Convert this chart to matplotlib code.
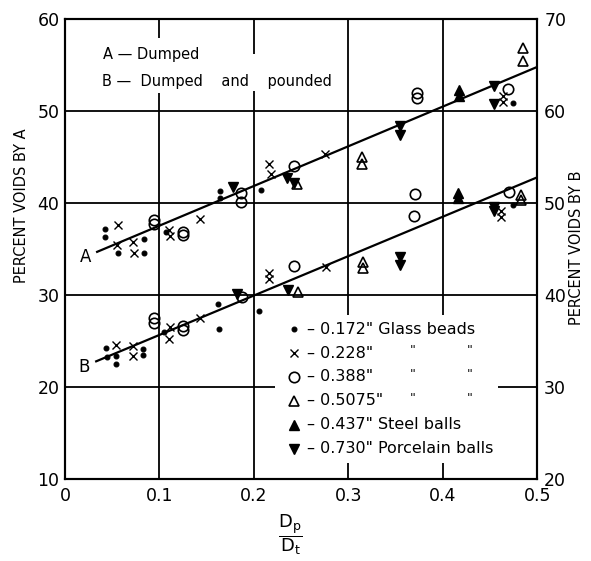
import matplotlib
matplotlib.use('Agg')
import matplotlib.pyplot as plt

plt.rcParams['font.family'] = ['DejaVu Sans']
plt.rcParams['mathtext.default'] = 'regular'

# ---- data: A = dumped (left scale), B = dumped and pounded (right scale)
# 0.172" glass beads
A_dot_x = [0.042, 0.042, 0.056, 0.084, 0.0835, 0.107, 0.164, 0.164, 0.207, 0.474]
A_dot_y = [37.2, 36.3, 34.6, 36.1, 34.6, 36.9, 40.6, 41.3, 41.4, 50.9]
B_dot_x = [0.043, 0.044, 0.054, 0.054, 0.083, 0.083, 0.105, 0.162, 0.163, 0.205, 0.474]
B_dot_y = [34.2, 33.3, 33.4, 32.5, 34.1, 33.5, 36.0, 39.0, 36.3, 38.3, 49.75]
# 0.228" glass beads
A_x_x = [0.056, 0.055, 0.072, 0.073, 0.110, 0.1115, 0.143, 0.216, 0.218, 0.275, 0.464, 0.464]
A_x_y = [37.6, 35.4, 35.8, 34.6, 37.1, 36.4, 38.3, 44.3, 43.2, 45.3, 51.6, 51.0]
B_x_x = [0.0545, 0.072, 0.0725, 0.111, 0.110, 0.143, 0.216, 0.216, 0.276, 0.462, 0.462]
B_x_y = [34.6, 34.5, 33.4, 36.5, 35.2, 37.5, 42.4, 41.8, 43.0, 49.1, 48.45]
# 0.388" glass beads
A_o_x = [0.094, 0.094, 0.125, 0.125, 0.186, 0.186, 0.242, 0.373, 0.373, 0.469]
A_o_y = [38.2, 37.7, 36.9, 36.5, 41.1, 40.1, 44.0, 52.0, 51.4, 52.4]
B_o_x = [0.094, 0.094, 0.125, 0.125, 0.187, 0.2425, 0.370, 0.371, 0.470]
B_o_y = [37.5, 37.0, 36.6, 36.2, 39.8, 43.2, 48.6, 51.0, 51.2]
# 0.5075" glass beads
A_tri_x = [0.246, 0.314, 0.314, 0.4845, 0.4845]
A_tri_y = [42.1, 45.0, 44.2, 56.9, 55.4]
B_tri_x = [0.247, 0.315, 0.315, 0.483, 0.483]
B_tri_y = [40.3, 43.6, 42.9, 50.9, 50.3]
# 0.437" steel balls
A_up_x = [0.417, 0.417]
A_up_y = [52.3, 51.6]
B_up_x = [0.416, 0.416]
B_up_y = [51.1, 50.6]
# 0.730" porcelain balls
A_dn_x = [0.178, 0.2355, 0.242, 0.355, 0.355, 0.454, 0.454]
A_dn_y = [41.7, 42.7, 42.2, 48.35, 47.4, 52.7, 50.8]
B_dn_x = [0.182, 0.236, 0.3545, 0.3545, 0.454, 0.454]
B_dn_y = [40.1, 40.6, 44.1, 43.3, 49.6, 49.1]

# fitted lines (end points)
A_line_x = [0.034, 0.5]
A_line_y = [34.7, 54.8]
B_line_x = [0.033, 0.5]
B_line_y = [32.8, 52.8]

x_ticks = [0, 0.1, 0.2, 0.3, 0.4, 0.5]
x_labels = ['0', '0.1', '0.2', '0.3', '0.4', '0.5']
left_ticks = [10, 20, 30, 40, 50, 60]
right_ticks = [20, 30, 40, 50, 60, 70]

legend_labels = ['0.172"', '0.228"', '0.388"', '0.5075"', '0.437"', '0.730"']
legend_names = ['Glass beads', None, None, None, 'Steel balls', 'Porcelain balls']

# marker styles: dot, x, open circle, open triangle, steel, porcelain
styles = [
    dict(marker='o', ms=3.5, mfc='black', mec='black', mew=0.8),
    dict(marker='x', ms=5.5, mfc='black', mec='black', mew=1.0),
    dict(marker='o', ms=7.5, mfc='none', mec='black', mew=1.2),
    dict(marker='^', ms=7.5, mfc='none', mec='black', mew=1.2),
    dict(marker='^', ms=7.5, mfc='black', mec='black', mew=1.0),
    dict(marker='v', ms=7.5, mfc='black', mec='black', mew=1.0),
]

fig = plt.figure(figsize=(5.91, 5.61), dpi=100)
ax = fig.add_axes([0.110, 0.146, 0.799, 0.820])
ax.set_xlim(0, 0.5)
ax.set_ylim(10, 60)
ax2 = ax.twinx()
ax2.set_ylim(20, 70)

lw = 1.3
# grid lines with the gaps of the original sheet
ax.vlines(0.1, 57.9, 60, color='black', lw=lw)
ax.vlines(0.1, 10, 52.0, color='black', lw=lw)
ax.vlines(0.2, 56.2, 60, color='black', lw=lw)
ax.vlines(0.2, 10, 52.2, color='black', lw=lw)
for xv in (0.3, 0.4):
    ax.vlines(xv, 27.8, 60, color='black', lw=lw)
    ax.vlines(xv, 10, 11.8, color='black', lw=lw)
for yv in (30, 40, 50):
    ax.hlines(yv, 0, 0.5, color='black', lw=lw)
ax.hlines(20, 0, 0.222, color='black', lw=lw)
ax.hlines(20, 0.459, 0.5, color='black', lw=lw)

# fitted lines
ax.plot(A_line_x, A_line_y, color='black', lw=1.6)
ax2.plot(B_line_x, B_line_y, color='black', lw=1.6)

A_sets = [(A_dot_x, A_dot_y), (A_x_x, A_x_y), (A_o_x, A_o_y),
          (A_tri_x, A_tri_y), (A_up_x, A_up_y), (A_dn_x, A_dn_y)]
B_sets = [(B_dot_x, B_dot_y), (B_x_x, B_x_y), (B_o_x, B_o_y),
          (B_tri_x, B_tri_y), (B_up_x, B_up_y), (B_dn_x, B_dn_y)]
for (xs, ys), st in zip(A_sets, styles):
    ax.plot(xs, ys, ls='none', **st)
for (xs, ys), st in zip(B_sets, styles):
    ax2.plot(xs, ys, ls='none', **st)

# line labels and notes
ax.text(0.022, 34.1, 'A', fontsize=12, ha='center', va='center')
ax2.text(0.020, 32.2, 'B', fontsize=12, ha='center', va='center')
ax.text(0.040, 56.2, 'A \u2014 Dumped', fontsize=10.5, va='center')
ax.text(0.039, 53.2, 'B \u2014  Dumped    and    pounded', fontsize=10.5, va='center')

# legend block
for i, st in enumerate(styles):
    yy = 26.3 - 2.6 * i
    ax.plot([0.242], [yy], ls='none', **st)
    if legend_names[i] is not None:
        ax.text(0.256, yy, '\u2013 ' + legend_labels[i] + ' ' + legend_names[i],
                fontsize=11.5, va='center')
    else:
        ax.text(0.256, yy, '\u2013 ' + legend_labels[i], fontsize=11.5, va='center')
        ax.text(0.368, yy + 0.3, '"', fontsize=9, va='center', ha='center')
        ax.text(0.428, yy + 0.3, '"', fontsize=9, va='center', ha='center')

# axes, ticks, labels
for a in (ax, ax2):
    for s in a.spines.values():
        s.set_linewidth(1.5)
ax.set_xticks(x_ticks)
ax.set_xticklabels(x_labels)
ax.set_yticks(left_ticks)
ax2.set_yticks(right_ticks)
ax.tick_params(axis='both', length=0, labelsize=12.5)
ax.tick_params(axis='y', pad=4)
ax.tick_params(axis='x', pad=6)
ax2.tick_params(axis='y', length=0, labelsize=12.5, pad=5)

fig.text(0.036, 0.633, 'PERCENT VOIDS BY A', rotation=90, fontsize=10.5,
         ha='center', va='center')
fig.text(0.975, 0.558, 'PERCENT VOIDS BY B', rotation=90, fontsize=10.5,
         ha='center', va='center')
fig.text(0.491, 0.046, r'$\dfrac{D_p}{D_t}$', fontsize=13, ha='center', va='center')

fig.savefig('out.png', dpi=100)
